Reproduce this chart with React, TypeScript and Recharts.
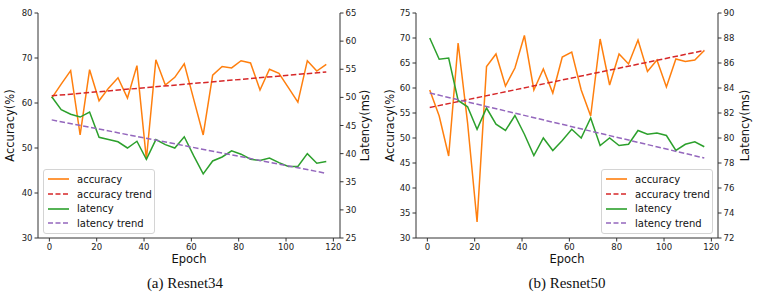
import React from 'react';
import { ComposedChart, Line, XAxis, YAxis, Legend, Label } from 'recharts';

// epochs shared by both runs
const epochs = [1, 5, 9, 13, 17, 21, 25, 29, 33, 37, 41, 45, 49, 53, 57, 61, 65, 69, 73, 77, 81, 85, 89, 93, 97, 101, 105, 109, 113, 117];

// (a) Resnet34
const r34Accuracy = [61.1, 64.2, 67.2, 52.9, 67.4, 60.5, 63.3, 65.6, 61.1, 68.3, 47.5, 69.6, 64.0, 65.7, 68.7, 60.8, 52.9, 66.2, 68.1, 67.8, 69.4, 68.9, 62.9, 67.5, 66.6, 63.4, 60.2, 69.4, 67.1, 68.6];
const r34Latency = [50.1, 47.8, 47.0, 46.5, 47.4, 42.9, 42.5, 42.1, 41.0, 42.2, 39.0, 42.5, 41.6, 41.0, 43.0, 39.6, 36.4, 38.7, 39.4, 40.5, 39.9, 39.0, 38.8, 39.2, 38.4, 37.7, 37.7, 40.0, 38.3, 38.6];
const r34AccTrend = [61.6, 66.9];
const r34LatTrend = [46.0, 36.5];

// (b) Resnet50
const r50Accuracy = [59.6, 54.4, 46.4, 69.0, 53.0, 33.2, 64.3, 66.8, 60.4, 64.0, 70.5, 59.6, 63.8, 59.0, 66.2, 67.2, 59.6, 54.4, 69.8, 60.6, 66.8, 64.8, 69.6, 63.3, 65.6, 60.2, 65.8, 65.3, 65.6, 67.5];
const r50Latency = [88.0, 86.3, 86.4, 83.0, 82.5, 80.7, 82.4, 81.1, 80.6, 81.8, 80.3, 78.6, 80.0, 79.0, 79.8, 80.7, 80.0, 81.6, 79.4, 80.0, 79.4, 79.5, 80.6, 80.3, 80.4, 80.2, 79.0, 79.5, 79.7, 79.3];
const r50AccTrend = [56.1, 67.5];
const r50LatTrend = [83.6, 78.4];

const trendEpochs = [1, 117];
const xTicks = [0, 20, 40, 60, 80, 100, 120];

const legendNames = ['accuracy', 'accuracy trend', 'latency', 'latency trend'];
const legendColors = ['#ff7f0e', '#d62728', '#2ca02c', '#9467bd'];

const axisColor = '#333';
const tickStyle = { fontSize: 8.5, fill: '#222' };

const renderLegend = () => (
  <div style={{
    border: '1px solid #d4d4d4', borderRadius: 3, background: 'rgba(255,255,255,0.85)',
    padding: '2px 0', width: 112, boxSizing: 'border-box', fontFamily: 'DejaVu Sans'
  }}>
    {legendNames.map((name, i) => (
      <div key={name} style={{ display: 'flex', alignItems: 'center', height: 14.7, fontSize: 10, color: '#111' }}>
        <svg width={30} height={6} style={{ display: 'block' }}>
          <line x1={4} x2={25} y1={3} y2={3} stroke={legendColors[i]} strokeWidth={1.6}
            strokeDasharray={name.endsWith('trend') ? '5 2.5' : undefined} />
        </svg>
        <span style={{ marginLeft: 3, whiteSpace: 'nowrap' }}>{name}</span>
      </div>
    ))}
  </div>
);

interface PanelProps {
  left: number;
  width: number;
  rightMargin: number;
  accuracy: number[];
  latency: number[];
  accTrend: number[];
  latTrend: number[];
  accDomain: number[];
  accTicks: number[];
  latDomain: number[];
  latTicks: number[];
  accLabelOffset: number;
  latLabelOffset: number;
  legendLeft: number;
  caption: string;
  captionCenter: number;
}

const Panel: React.FC<PanelProps> = (p) => {
  const data = epochs.map((e, i) => ({ epoch: e, accuracy: p.accuracy[i], latency: p.latency[i] }));
  const accTrendData = trendEpochs.map((e, i) => ({ epoch: e, trend: p.accTrend[i] }));
  const latTrendData = trendEpochs.map((e, i) => ({ epoch: e, trend: p.latTrend[i] }));

  return (
    <>
      <div style={{ position: 'absolute', left: p.left, top: 0 }}>
        <ComposedChart width={p.width} height={300} data={data}
          margin={{ top: 13, right: p.rightMargin, left: 0, bottom: 30 }}>
          <XAxis dataKey='epoch' type='number' domain={[-4.8, 122.8]} ticks={xTicks} allowDataOverflow
            height={32} tick={tickStyle} tickSize={3.5} tickMargin={2}
            axisLine={{ stroke: axisColor }} tickLine={{ stroke: axisColor }}>
            <Label value='Epoch' position='insideBottom' offset={7} style={{ fontSize: 11.5, fill: '#111' }} />
          </XAxis>
          <XAxis xAxisId='top' orientation='top' type='number' domain={[-4.8, 122.8]} height={0}
            tick={false} tickLine={false} axisLine={{ stroke: axisColor }} />
          <YAxis yAxisId='acc' domain={p.accDomain} ticks={p.accTicks} width={38}
            tick={tickStyle} tickSize={3.5} tickMargin={2}
            axisLine={{ stroke: axisColor }} tickLine={{ stroke: axisColor }}>
            <Label value='Accuracy(%)' angle={-90} position='insideLeft' offset={p.accLabelOffset}
              style={{ fontSize: 11.5, fill: '#111', textAnchor: 'middle' }} />
          </YAxis>
          <YAxis yAxisId='lat' orientation='right' domain={p.latDomain} ticks={p.latTicks} width={40}
            tick={tickStyle} tickSize={3.5} tickMargin={2}
            axisLine={{ stroke: axisColor }} tickLine={{ stroke: axisColor }}>
            <Label value='Latency(ms)' angle={-90} position='insideRight' offset={p.latLabelOffset}
              style={{ fontSize: 11.5, fill: '#111', textAnchor: 'middle' }} />
          </YAxis>
          <Legend layout='vertical' align='center' verticalAlign='middle' content={renderLegend}
            wrapperStyle={{ left: p.legendLeft, top: 169, width: 112, height: 63 }} />
          <Line yAxisId='acc' dataKey='accuracy' name='accuracy' stroke='#ff7f0e' strokeWidth={1.5}
            dot={false} isAnimationActive={false} />
          <Line yAxisId='acc' data={accTrendData} dataKey='trend' name='accuracy trend' stroke='#d62728'
            strokeWidth={1.5} strokeDasharray='5.5 2.5' dot={false} isAnimationActive={false} />
          <Line yAxisId='lat' dataKey='latency' name='latency' stroke='#2ca02c' strokeWidth={1.5}
            dot={false} isAnimationActive={false} />
          <Line yAxisId='lat' data={latTrendData} dataKey='trend' name='latency trend' stroke='#9467bd'
            strokeWidth={1.5} strokeDasharray='5.5 2.5' dot={false} isAnimationActive={false} />
        </ComposedChart>
      </div>
      <div style={{
        position: 'absolute', left: p.captionCenter - 100, top: 274, width: 200, textAlign: 'center',
        fontFamily: '"Liberation Serif", serif', fontSize: 15, lineHeight: '18px', color: '#111'
      }}>
        {p.caption}
      </div>
    </>
  );
};

export default function App() {
  return (
    <div style={{
      position: 'absolute', left: 0, top: 0, width: 763, height: 300, background: '#fff',
      overflow: 'hidden', fontFamily: '"DejaVu Sans", sans-serif'
    }}>
      <Panel left={0} width={380} rightMargin={0}
        accuracy={r34Accuracy} latency={r34Latency} accTrend={r34AccTrend} latTrend={r34LatTrend}
        accDomain={[30, 80]} accTicks={[30, 40, 50, 60, 70, 80]}
        latDomain={[25, 65]} latTicks={[25, 30, 35, 40, 45, 50, 55, 60, 65]}
        accLabelOffset={10} latLabelOffset={15} legendLeft={43}
        caption='(a) Resnet34' captionCenter={185} />
      <Panel left={378} width={385} rightMargin={5}
        accuracy={r50Accuracy} latency={r50Latency} accTrend={r50AccTrend} latTrend={r50LatTrend}
        accDomain={[30, 75]} accTicks={[30, 35, 40, 45, 50, 55, 60, 65, 70, 75]}
        latDomain={[72, 90]} latTicks={[72, 74, 76, 78, 80, 82, 84, 86, 88, 90]}
        accLabelOffset={12} latLabelOffset={13} legendLeft={223}
        caption='(b) Resnet50' captionCenter={567} />
    </div>
  );
}
